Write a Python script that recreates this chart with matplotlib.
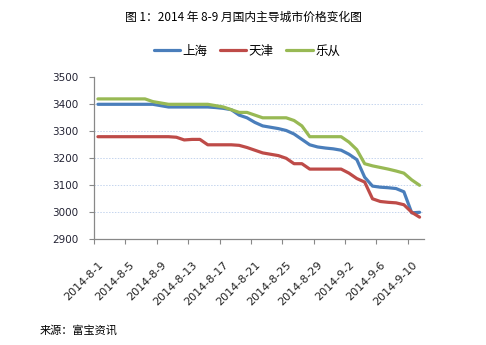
import matplotlib
matplotlib.use("Agg")
import matplotlib.pyplot as plt
import matplotlib.transforms as mtransforms
import numpy as np

# ---- data ----
dates = [f"2014-8-{d}" for d in range(1, 32)] + [f"2014-9-{d}" for d in range(1, 12)]
shanghai = [3400, 3400, 3400, 3400, 3400, 3400, 3400, 3400, 3395, 3390,
            3390, 3390, 3390, 3390, 3390, 3388, 3385, 3380, 3360, 3350,
            3333, 3320, 3315, 3310, 3303, 3290, 3270, 3250, 3242, 3238,
            3235, 3230, 3215, 3195, 3130, 3097, 3093, 3091, 3088, 3076,
            2998, 3000]
tianjin = [3280, 3280, 3280, 3280, 3280, 3280, 3280, 3280, 3280, 3280,
           3278, 3268, 3270, 3270, 3250, 3250, 3250, 3250, 3248, 3240,
           3230, 3220, 3215, 3210, 3200, 3180, 3180, 3160, 3160, 3160,
           3160, 3160, 3145, 3125, 3112, 3050, 3040, 3037, 3035, 3028,
           3000, 2982]
lecong = [3420, 3420, 3420, 3420, 3420, 3420, 3420, 3410, 3405, 3400,
          3400, 3400, 3400, 3400, 3400, 3395, 3390, 3380, 3370, 3370,
          3360, 3350, 3350, 3350, 3350, 3340, 3320, 3280, 3280, 3280,
          3280, 3280, 3260, 3232, 3180, 3172, 3166, 3160, 3153, 3145,
          3120, 3100]
series_names = ["上海", "天津", "乐从"]
colors = ["#4A7EBB", "#BE4B48", "#98B954"]
yticks = [2900, 3000, 3100, 3200, 3300, 3400, 3500]
tick_every = 4

plt.rcParams['font.family'] = ['Noto Sans CJK SC', 'DejaVu Sans']

W, H = 486, 345
fig = plt.figure(figsize=(W / 100, H / 100), dpi=100)
ax = fig.add_axes([94 / W, 1 - 239.3 / H, (423.5 - 94) / W, (239.3 - 77.3) / H])

n = len(dates)
x = np.arange(n) + 0.5
for name, vals, c in zip(series_names, [shanghai, tianjin, lecong], colors):
    ax.plot(x, vals, color=c, lw=2.3, label=name, solid_joinstyle='round',
            solid_capstyle='round')

ax.set_xlim(0, n)
ax.set_ylim(2900, 3500)
ax.set_yticks(yticks)
ax.set_yticklabels([str(v) for v in yticks], family='DejaVu Sans', fontsize=7.5,
                   color='#222233')
tpos = list(range(0, n, tick_every))
ax.set_xticks(tpos)
ax.set_xticklabels([dates[i] for i in tpos], rotation=45, ha='right',
                   rotation_mode='anchor', family='DejaVu Sans', fontsize=8,
                   color='#222222')
ax.tick_params(axis='both', length=3.5, width=0.8, color='#888888', pad=2)
ax.tick_params(axis='y', pad=8)
offset = mtransforms.ScaledTranslation(4 / 100, -13 / 100, fig.dpi_scale_trans)
for lab in ax.get_xticklabels():
    lab.set_transform(lab.get_transform() + offset)
for s in ['top', 'right']:
    ax.spines[s].set_visible(False)
for s in ['left', 'bottom']:
    ax.spines[s].set_color('#888888')
    ax.spines[s].set_linewidth(0.9)
for v in yticks[1:-1]:
    ax.axhline(v, color='#C5D5EE', lw=0.7, ls=(0, (1.5, 1.5)), zorder=0)

fig.text(0.5, 1 - 17 / H, "图 1：2014 年 8-9 月国内主导城市价格变化图", ha='center',
         va='center', fontsize=8.5, color='#000000')
leg = fig.legend(loc='center', bbox_to_anchor=(247 / W, 1 - 51 / H), ncol=3,
                 frameon=False, fontsize=9, handlelength=2.1, handletextpad=0.2,
                 columnspacing=1.0)
fig.text(40 / W, 1 - 330 / H, "来源：富宝资讯", ha='left', va='center', fontsize=8,
         color='#000000')

fig.savefig("out.png", dpi=100)
